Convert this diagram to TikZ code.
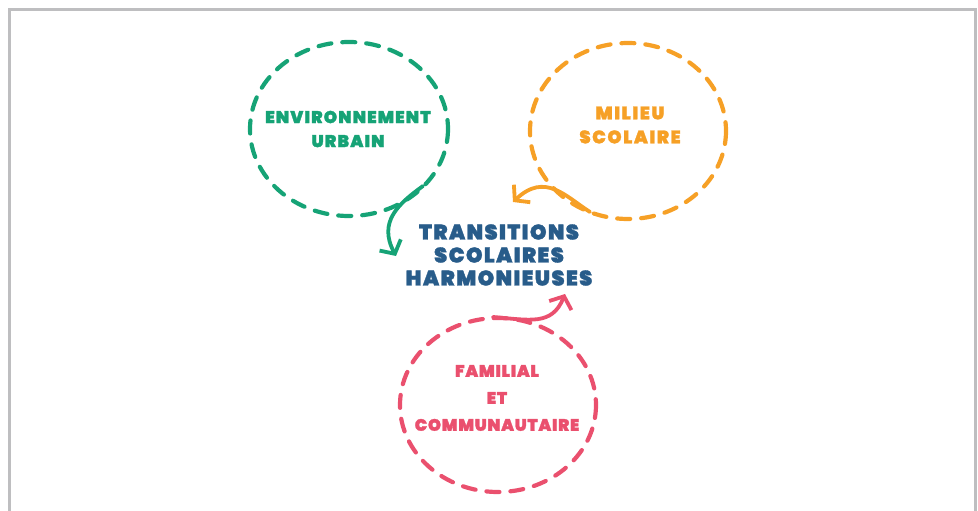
\documentclass[tikz,border=0pt]{standalone}
\usepackage{fontspec}
\newfontfamily\disp{Poppins Black}[LetterSpace=7,FakeBold=1.6]
\newfontfamily\dispo{Poppins Black}[LetterSpace=9,FakeBold=1.6]
\newfontfamily\dispp{Poppins Black}[LetterSpace=5,FakeBold=1.6]
\usetikzlibrary{arrows.meta}
\definecolor{cgreen}{RGB}{22,163,118}
\definecolor{corange}{RGB}{246,160,38}
\definecolor{cpink}{RGB}{234,80,110}
\definecolor{cblue}{RGB}{40,92,138}
\definecolor{cframe}{RGB}{190,190,192}
\tikzset{
  ring/.style={line width=4.2pt, dash pattern=on 13pt off 11pt, line cap=round},
  lbl/.style={align=center, inner sep=0pt},
  curvy/.style={line width=3.8pt, line cap=round, -{Straight Barb[length=10pt,width=24pt,line width=3.8pt]}},
}
\begin{document}
\begin{tikzpicture}[x=1pt,y=-1pt]
\useasboundingbox (0,0) rectangle (978,511);
\draw[cframe, line width=3pt] (9.5,520) -- (9.5,9.5) -- (975,9.5) -- (975,520);
% circles
\draw[ring, cgreen] (349,129) ellipse [x radius=99, y radius=87];
\draw[ring, corange] (628,131) ellipse [x radius=98, y radius=88];
\draw[ring, cpink] (498,405) ellipse [x radius=98, y radius=87];
% labels
\node[lbl, text=cgreen, font=\disp\fontsize{17}{24}\selectfont] (env) at (348,129) {ENVIRONNEMENT\\URBAIN};
\node[lbl, text=corange, font=\dispo\fontsize{18}{24}\selectfont] (mil) at (630,125) {MILIEU\\SCOLAIRE};
\node[lbl, text=cpink, font=\dispp\fontsize{16.5}{27}\selectfont] (fam) at (497,398) {FAMILIAL\\ET\\COMMUNAUTAIRE};
\node[lbl, text=cblue, font=\disp\fontsize{21}{23}\selectfont] (tr) at (499,255) {TRANSITIONS\\SCOLAIRES\\HARMONIEUSES};
% arrows
\coordinate (g0) at (423,186);
\coordinate (g1) at (396,256);
\draw[curvy, cgreen] (g0) .. controls (398,204) and (378,222) .. (g1);
\coordinate (o0) at (590,212);
\coordinate (o1) at (513,202);
\draw[curvy, corange] (o0) .. controls (565,196) and (545,172) .. (o1);
\coordinate (p0) at (493,317);
\coordinate (p1) at (565,294);
\draw[curvy, cpink] (p0) .. controls (530,320) and (552,326) .. (p1);
\end{tikzpicture}
\end{document}
